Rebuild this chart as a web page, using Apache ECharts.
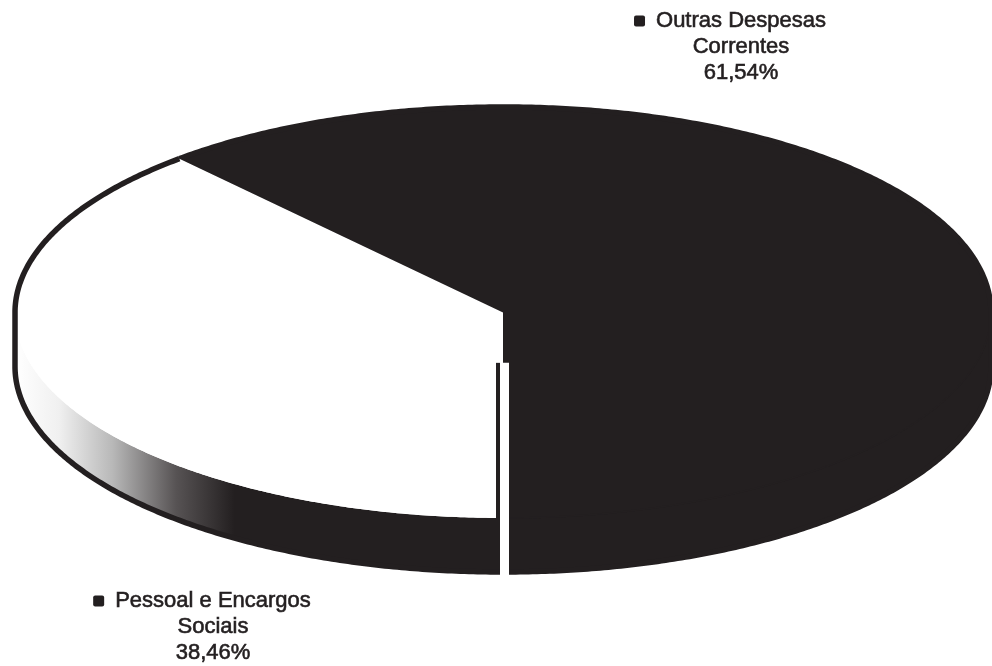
<!DOCTYPE html>
<html>
<head>
<meta charset="utf-8">
<title>Despesas</title>
<script src="https://cdn.jsdelivr.net/npm/echarts@6/dist/echarts.min.js"></script>
<style>
  html, body { margin: 0; padding: 0; background: #ffffff; }
  #chart { width: 992px; height: 666px; }
</style>
</head>
<body>
<div id="chart"></div>
<script>
// Slice names (line break where the label wraps) and their shares in percent
const categories = ['Outras Despesas\nCorrentes', 'Pessoal e Encargos\nSociais'];
const shares = [61.54, 38.46];

// Drawing settings for the tilted pie
const INK = '#231f20';
const sliceFill = [INK, '#ffffff'];
const pie = { cx: 503, cy: 312.5, rx: 488, ry: 205.5, depth: 54, start: Math.PI / 2 };
const labelAnchor = [[741, 8], [213, 588]];

const total = shares.reduce((a, b) => a + b, 0);
const fmtPct = v => v.toFixed(2).replace('.', ',') + '%';

function pt(theta, dz) {
  return [pie.cx + pie.rx * Math.cos(theta), pie.cy + pie.ry * Math.sin(theta) + (dz || 0)];
}
function arc(s, e, dz) {
  const n = Math.max(2, Math.ceil(Math.abs(e - s) / (Math.PI / 360)));
  const out = [];
  for (let k = 0; k <= n; k++) out.push(pt(s + (e - s) * k / n, dz));
  return out;
}

// Slices run counter-clockwise on screen from the front (bottom) of the pie
function sliceRange(i) {
  const before = shares.slice(0, i).reduce((a, b) => a + b, 0);
  const hi = pie.start - before / total * Math.PI * 2;
  const lo = pie.start - (before + shares[i]) / total * Math.PI * 2;
  return [lo, hi];
}

function sideGradient() {
  return new echarts.graphic.LinearGradient(0, 0, 1, 0, [
    { offset: 0, color: '#ffffff' },
    { offset: 0.09, color: '#f0f0f0' },
    { offset: 0.2, color: '#b8b8b8' },
    { offset: 0.33, color: '#575354' },
    { offset: 0.45, color: INK },
    { offset: 1, color: INK }
  ]);
}

function renderItem(params, api) {
  const i = params.dataIndex;
  const value = api.value(0);
  const [lo, hi] = sliceRange(i);
  const children = [];
  const dark = sliceFill[i] === INK;

  // visible side wall: part of the slice facing the viewer (sin > 0)
  for (let k = -2; k <= 1; k++) {
    const s = Math.max(lo, 2 * Math.PI * k);
    const e = Math.min(hi, 2 * Math.PI * k + Math.PI);
    if (e > s) {
      const poly = arc(s, e, 0).concat(arc(e, s, pie.depth));
      children.push({
        type: 'polygon',
        shape: { points: poly },
        style: dark ? { fill: INK, stroke: INK, lineWidth: 1.5 } : { fill: sideGradient(), stroke: null }
      });
    }
  }

  // top face
  children.push({
    type: 'polygon',
    shape: { points: [[pie.cx, pie.cy]].concat(arc(lo, hi, 0)) },
    style: dark ? { fill: INK, stroke: INK, lineWidth: 1.5 } : { fill: sliceFill[i], stroke: null }
  });

  // outer silhouette of the slice
  const n = Math.ceil((hi - lo) / (Math.PI / 360));
  const outline = [];
  for (let k = 0; k <= n; k++) {
    const t = lo + (hi - lo) * k / n;
    outline.push(pt(t, Math.sin(t) > 1e-6 ? pie.depth : 0));
  }
  children.push({
    type: 'polyline',
    shape: { points: outline },
    style: { stroke: INK, lineWidth: 5.5, fill: null, lineJoin: 'round' }
  });

  // seam where the dark slice meets the light one at the front
  if (i === shares.length - 1) {
    const yTop = pie.cy + pie.ry * 0.245;
    children.push({
      type: 'rect', z2: 20,
      shape: { x: pie.cx - 7, y: yTop, width: 4, height: pie.ry - pie.ry * 0.245 },
      style: { fill: INK }
    });
    children.push({
      type: 'rect', z2: 20,
      shape: { x: pie.cx - 3, y: yTop, width: 9, height: pie.ry * 0.755 + pie.depth + 3 },
      style: { fill: '#ffffff' }
    });
  }

  // label: key square + name + percentage
  const lines = categories[i].split('\n');
  const text = '{m| }{g| }' + lines[0] + '{g| }{g| }\n' + lines.slice(1).join('\n') + '\n' + fmtPct(value);
  children.push({
    type: 'text', z2: 30,
    x: labelAnchor[i][0], y: labelAnchor[i][1],
    style: {
      text: text,
      align: 'center',
      verticalAlign: 'top',
      fill: INK,
      stroke: INK,
      lineWidth: 0.6,
      fontSize: 22,
      fontFamily: '"Liberation Sans", Arial, sans-serif',
      lineHeight: 26,
      rich: {
        m: { width: 11, height: 11, backgroundColor: INK, borderRadius: 2, fontSize: 22, lineHeight: 26 },
        g: { width: 11, fontSize: 22, lineHeight: 26 }
      }
    }
  });

  return { type: 'group', children: children };
}

const chart = echarts.init(document.getElementById('chart'), null, { renderer: 'canvas' });
chart.setOption({
  backgroundColor: '#ffffff',
  animation: false,
  series: [{
    type: 'custom',
    coordinateSystem: 'none',
    renderItem: renderItem,
    data: shares.map((v, i) => ({ name: categories[i], value: v }))
  }]
});
</script>
</body>
</html>
